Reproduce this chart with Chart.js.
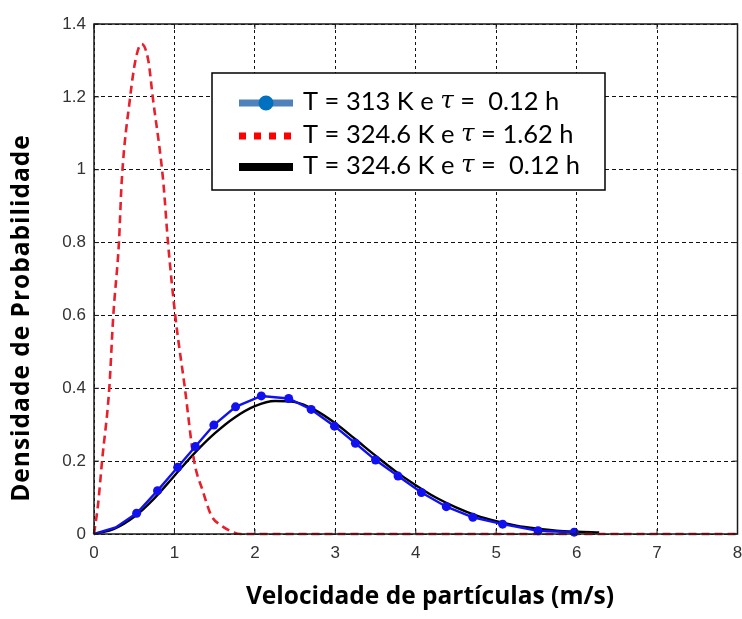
<!DOCTYPE html>
<html>
<head>
<meta charset="utf-8">
<script src="https://cdn.jsdelivr.net/npm/chart.js@4/dist/chart.umd.min.js"></script>
<style>
  html, body { margin: 0; padding: 0; background: #ffffff; }
  #wrap { width: 742px; height: 619px; }
</style>
</head>
<body>
<div id="wrap"><canvas id="c" width="742" height="619"></canvas></div>
<script>
// Particle velocity distributions (probability density vs velocity, m/s)
const seriesLabels = [
  ['T = 313 K e ', 'τ', ' =  0.12 h'],
  ['T = 324.6 K e ', 'τ', ' = 1.62 h'],
  ['T = 324.6 K e ', 'τ', ' =  0.12 h']
];

// T = 313 K, tau = 0.12 h (line with markers)
const blueX = [0, 0.27, 0.53, 0.79, 1.04, 1.26, 1.49, 1.76, 2.08, 2.42, 2.70, 2.99, 3.25, 3.50, 3.78, 4.07, 4.38, 4.71, 5.08, 5.52, 5.97];
const blueY = [0, 0.018, 0.057, 0.119, 0.183, 0.240, 0.299, 0.349, 0.379, 0.372, 0.342, 0.296, 0.249, 0.203, 0.159, 0.114, 0.075, 0.046, 0.027, 0.009, 0.005];
const blueMarked = [false, false, true, true, true, true, true, true, true, true, true, true, true, true, true, true, true, true, true, true, true];

// T = 324.6 K, tau = 1.62 h (dashed)
const redX = [0, 0.05, 0.10, 0.19, 0.24, 0.31, 0.345, 0.45, 0.515, 0.59, 0.675, 0.73, 0.86, 0.92, 1.01, 1.13, 1.245, 1.35, 1.46, 1.57, 1.70, 1.82, 2, 3, 4, 5, 6, 7, 8];
const redY = [0, 0.08, 0.20, 0.40, 0.60, 0.80, 0.97, 1.20, 1.30, 1.345, 1.30, 1.20, 0.97, 0.80, 0.60, 0.40, 0.20, 0.12, 0.05, 0.025, 0.008, 0, 0, 0, 0, 0, 0, 0, 0];

// T = 324.6 K, tau = 0.12 h (solid)
const blackX = [0, 0.25, 0.5, 0.75, 1, 1.25, 1.5, 1.75, 2, 2.25, 2.5, 2.75, 3, 3.25, 3.5, 3.75, 4, 4.25, 4.5, 4.75, 5, 5.25, 5.5, 5.75, 6, 6.28];
const blackY = [0, 0.014, 0.047, 0.098, 0.160, 0.222, 0.276, 0.320, 0.351, 0.365, 0.362, 0.340, 0.304, 0.260, 0.215, 0.172, 0.134, 0.100, 0.073, 0.051, 0.035, 0.023, 0.015, 0.009, 0.006, 0.004];

const xTicks = [0, 1, 2, 3, 4, 5, 6, 7, 8];
const yTicks = [0, 0.2, 0.4, 0.6, 0.8, 1, 1.2, 1.4];

const xTitle = 'Velocidade de partículas (m/s)';
const yTitle = 'Densidade de Probabilidade';

const pts = (xs, ys) => xs.map((x, i) => ({ x: x, y: ys[i] }));

// Box around the axes with inward tick marks on all four sides
const framePlugin = {
  id: 'frame',
  afterDatasetsDraw(chart) {
    const { ctx, chartArea: a, scales } = chart;
    ctx.save();
    ctx.strokeStyle = '#1a1a1a';
    ctx.lineWidth = 1.5;
    ctx.setLineDash([]);
    ctx.strokeRect(a.left, a.top, a.right - a.left, a.bottom - a.top);
    ctx.lineWidth = 1;
    const len = 5;
    xTicks.forEach(v => {
      const px = scales.x.getPixelForValue(v);
      ctx.beginPath();
      ctx.moveTo(px, a.bottom); ctx.lineTo(px, a.bottom - len);
      ctx.moveTo(px, a.top); ctx.lineTo(px, a.top + len);
      ctx.stroke();
    });
    yTicks.forEach(v => {
      const py = scales.y.getPixelForValue(v);
      ctx.beginPath();
      ctx.moveTo(a.left, py); ctx.lineTo(a.left + len, py);
      ctx.moveTo(a.right, py); ctx.lineTo(a.right - len, py);
      ctx.stroke();
    });
    ctx.restore();
  }
};

// Boxed legend inside the plot area
const legendPlugin = {
  id: 'boxLegend',
  afterDraw(chart) {
    const { ctx, chartArea: a } = chart;
    const bx = a.left + 118, by = a.top + 49, bw = 393, bh = 117;
    ctx.save();
    ctx.fillStyle = '#ffffff';
    ctx.fillRect(bx, by, bw, bh);
    ctx.strokeStyle = '#000000';
    ctx.lineWidth = 1.5;
    ctx.strokeRect(bx, by, bw, bh);

    const sx0 = bx + 27, sx1 = bx + 81;
    const rowsY = [by + 30, by + 63, by + 94];
    // sample 1: steel-blue bar with a round marker
    ctx.strokeStyle = '#4f81bd';
    ctx.lineWidth = 7;
    ctx.beginPath(); ctx.moveTo(sx0, rowsY[0]); ctx.lineTo(sx1, rowsY[0]); ctx.stroke();
    ctx.fillStyle = '#0070c0';
    ctx.beginPath(); ctx.arc((sx0 + sx1) / 2, rowsY[0], 7.5, 0, Math.PI * 2); ctx.fill();
    // sample 2: red square dots
    ctx.strokeStyle = '#ff0000';
    ctx.lineWidth = 7;
    ctx.setLineDash([7, 8]);
    ctx.beginPath(); ctx.moveTo(sx0, rowsY[1]); ctx.lineTo(sx1, rowsY[1]); ctx.stroke();
    ctx.setLineDash([]);
    // sample 3: thick black bar
    ctx.strokeStyle = '#000000';
    ctx.lineWidth = 8;
    ctx.beginPath(); ctx.moveTo(sx0, rowsY[2]); ctx.lineTo(sx1, rowsY[2]); ctx.stroke();

    // labels
    const fs = 25.5;
    const plain = fs + 'px Lato, "Open Sans", sans-serif';
    const greek = 'italic ' + (fs - 1) + 'px "DejaVu Serif", "Liberation Serif", serif';
    ctx.fillStyle = '#000000';
    ctx.textBaseline = 'middle';
    ctx.textAlign = 'left';
    seriesLabels.forEach((runs, i) => {
      let x = bx + 91;
      runs.forEach((t, k) => {
        ctx.font = (k === 1) ? greek : plain;
        ctx.fillText(t, x, rowsY[i] - 1);
        x += ctx.measureText(t).width;
      });
    });
    ctx.restore();
  }
};

// Axis titles
const titlePlugin = {
  id: 'axisTitles',
  afterDraw(chart) {
    const { ctx } = chart;
    ctx.save();
    ctx.fillStyle = '#000000';
    ctx.font = 'bold 24.5px "Open Sans", Lato, sans-serif';
    ctx.textAlign = 'center';
    ctx.textBaseline = 'alphabetic';
    ctx.fillText(xTitle, 430, 604);
    ctx.letterSpacing = '1px';
    ctx.translate(29, 318);
    ctx.rotate(-Math.PI / 2);
    ctx.fillText(yTitle, 0, 0);
    ctx.restore();
  }
};

const tickFont = { family: '"Liberation Sans", Arial, sans-serif', size: 17 };

new Chart(document.getElementById('c'), {
  type: 'line',
  data: {
    datasets: [
      {
        label: seriesLabels[0].join(''),
        data: pts(blueX, blueY),
        borderColor: '#1010f0',
        backgroundColor: '#1010f0',
        borderWidth: 2.4,
        tension: 0,
        pointRadius: blueMarked.map(m => (m ? 4.5 : 0)),
        pointBorderWidth: 0,
        pointBackgroundColor: '#1010f0',
        clip: 6,
        order: 0
      },
      {
        label: seriesLabels[1].join(''),
        data: pts(redX, redY),
        borderColor: '#e8202c',
        borderWidth: 2.6,
        borderDash: [8, 5],
        cubicInterpolationMode: 'monotone',
        pointRadius: 0,
        clip: 6,
        order: 1
      },
      {
        label: seriesLabels[2].join(''),
        data: pts(blackX, blackY),
        borderColor: '#000000',
        borderWidth: 2.4,
        cubicInterpolationMode: 'monotone',
        pointRadius: 0,
        clip: 6,
        order: 2
      }
    ]
  },
  options: {
    responsive: false,
    animation: false,
    events: [],
    layout: { padding: { top: 24, right: 3, left: 0, bottom: 0 } },
    plugins: { legend: { display: false }, tooltip: { enabled: false } },
    scales: {
      x: {
        type: 'linear',
        min: 0, max: 8,
        afterFit(s) { s.height = 85; s.paddingLeft = 0; s.paddingRight = 0; },
        afterBuildTicks(s) { s.ticks = xTicks.map(v => ({ value: v })); },
        grid: { color: '#111111', lineWidth: 1, drawTicks: false },
        border: { display: false, dash: [3, 3] },
        ticks: {
          padding: 9,
          color: '#333333',
          font: tickFont,
          maxRotation: 0,
          callback: v => String(v)
        }
      },
      y: {
        type: 'linear',
        min: 0, max: 1.4,
        afterFit(s) { s.width = 94; s.paddingTop = 0; s.paddingBottom = 0; },
        afterBuildTicks(s) { s.ticks = yTicks.map(v => ({ value: v })); },
        grid: { color: '#111111', lineWidth: 1, drawTicks: false },
        border: { display: false, dash: [4, 3] },
        ticks: {
          padding: 8,
          color: '#333333',
          font: tickFont,
          callback: v => String(Number(v.toFixed(1)))
        }
      }
    }
  },
  plugins: [framePlugin, legendPlugin, titlePlugin]
});
</script>
</body>
</html>
